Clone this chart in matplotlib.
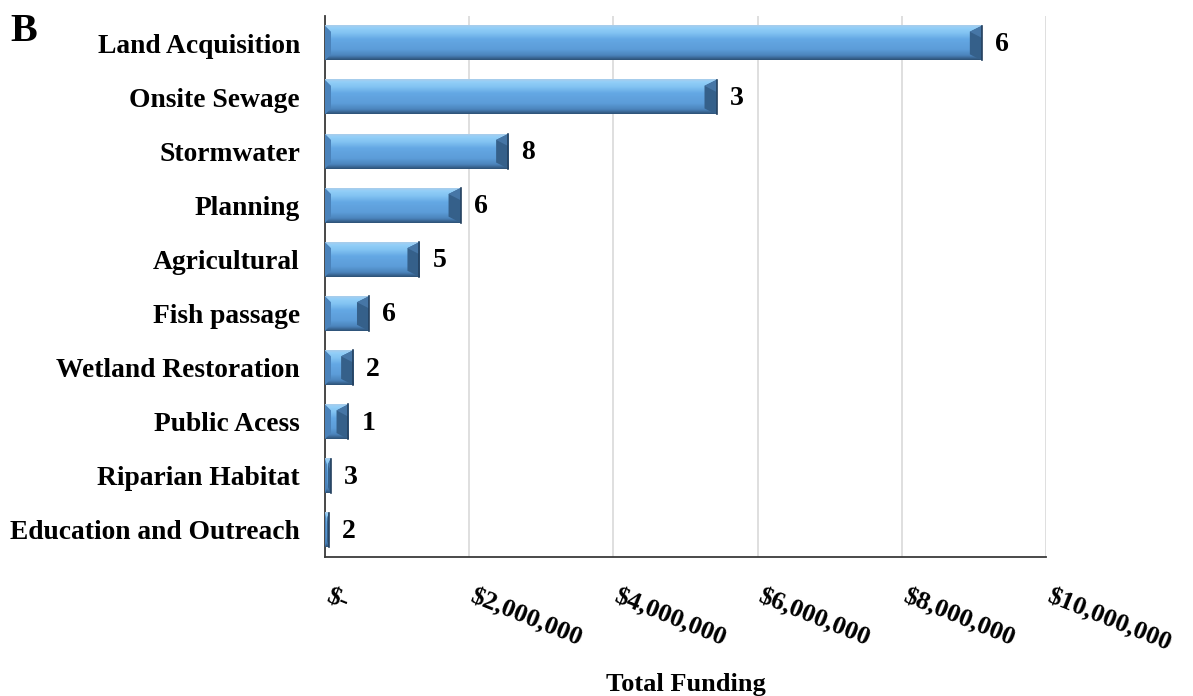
import numpy as np
import matplotlib
matplotlib.use("Agg")
import matplotlib.pyplot as plt
from matplotlib.patches import Polygon
from matplotlib.colors import to_rgb
from matplotlib.transforms import ScaledTranslation

plt.rcParams["font.family"] = ["Liberation Serif", "DejaVu Serif"]
plt.rcParams["font.weight"] = "bold"
plt.rcParams["text.parse_math"] = False

# Funding by project type (USD) and number of projects per type
categories = [
    "Land Acquisition", "Onsite Sewage", "Stormwater", "Planning",
    "Agricultural", "Fish passage", "Wetland Restoration", "Public Acess",
    "Riparian Habitat", "Education and Outreach",
]
funding = [9_110_000, 5_430_000, 2_540_000, 1_880_000, 1_310_000,
           610_000, 390_000, 320_000, 80_000, 55_000]
project_counts = [6, 3, 8, 6, 5, 6, 2, 1, 3, 2]

tick_values = [0, 2_000_000, 4_000_000, 6_000_000, 8_000_000, 10_000_000]
tick_labels = ["$-", "$2,000,000", "$4,000,000", "$6,000,000",
               "$8,000,000", "$10,000,000"]

W, H, DPI = 1193, 696, 100
fig = plt.figure(figsize=(W / DPI, H / DPI), dpi=DPI)
ax = fig.add_axes([325 / W, 1 - 557 / H, (1046 - 325) / W, (557 - 16) / H])

y = np.arange(len(categories))
bar_h = 0.64
bars = ax.barh(y, funding, height=bar_h, color="#5B9BD6", edgecolor="none", zorder=2)

xmax = 10_000_000
ax.set_xlim(0, xmax)
ax.set_ylim(len(categories) - 0.5, -0.5)

# pixel -> data conversions for bevel geometry
ax_w_px = 1046 - 325
ax_h_px = 557 - 16
px_x = xmax / ax_w_px
px_y = len(categories) / ax_h_px

# vertical shading of each bar face (top -> bottom as seen)
stops = [(0.00, "#A9CDEB"), (0.07, "#93CFF8"), (0.22, "#82C3F2"),
         (0.40, "#64A8E4"), (0.70, "#5C9CD8"), (0.87, "#4B84BC"),
         (1.00, "#2E5277")]
n = 64
t = np.linspace(0, 1, n)
pos = [s[0] for s in stops]
cols = np.array([to_rgb(s[1]) for s in stops])
grad = np.stack([np.interp(t, pos, cols[:, k]) for k in range(3)], axis=1)
grad_img = grad[:, None, :]

bx_px, by_px = 12, 6
for rect in bars:
    x0 = rect.get_x()
    x1 = x0 + rect.get_width()
    yt = rect.get_y()               # visually top (inverted axis)
    yb = yt + rect.get_height()     # visually bottom
    ax.imshow(grad_img, extent=(x0, x1, yb, yt), aspect="auto",
              interpolation="bilinear", zorder=3)
    bx = min(bx_px * px_x, (x1 - x0) / 2)
    lx = min(6 * px_x, (x1 - x0) / 3)
    by = by_px * px_y
    # left bevel
    ax.add_patch(Polygon([(x0, yt), (x0 + lx, yt + by), (x0 + lx, yb - by), (x0, yb)],
                         closed=True, facecolor="#4A82BA", edgecolor="none", zorder=4))
    # right bevel
    ax.add_patch(Polygon([(x1, yt), (x1 - bx, yt + by), (x1 - bx, yb - by), (x1, yb)],
                         closed=True, facecolor="#35608A", edgecolor="none", zorder=4))
    ax.add_patch(Polygon([(x1 - bx, yt + by), (x1, yt), (x1, yt + (yb - yt) * 0.35)],
                         closed=True, facecolor="#4676A6", edgecolor="none", zorder=4))
    ax.plot([x1, x1], [yt, yb], color="#24405E", lw=1.2, zorder=5)

ax.set_xlim(0, xmax)
ax.set_ylim(len(categories) - 0.5, -0.5)

# project counts next to each bar
for v, yy, c in zip(funding, y, project_counts):
    ax.annotate(str(c), xy=(v, yy), xytext=(9.5, -1), textcoords="offset points",
                ha="left", va="center", fontsize=20, fontweight="bold", color="black")

ax.set_yticks(y)
ax.set_yticklabels(categories, fontsize=19.8, fontweight="bold")
ax.tick_params(axis="y", length=0, pad=18)

ax.set_xticks(tick_values)
ax.set_xticklabels(tick_labels, fontsize=19, fontweight="bold", rotation=-22,
                   ha="left", va="top", rotation_mode="anchor")
ax.tick_params(axis="x", length=0, pad=20)
shift = ScaledTranslation(6 / DPI, 0, fig.dpi_scale_trans)
for lbl in ax.get_xticklabels():
    lbl.set_transform(lbl.get_transform() + shift)

ax.grid(axis="x", color="#D9D9D9", lw=1.2, zorder=0)
ax.set_axisbelow(True)
for side in ("top", "right"):
    ax.spines[side].set_visible(False)
ax.spines["left"].set_color("#3A3A3A")
ax.spines["left"].set_linewidth(1.3)
ax.spines["bottom"].set_color("#3A3A3A")
ax.spines["bottom"].set_linewidth(1.3)

ax.set_xlabel("Total Funding", fontsize=19, fontweight="bold", va="center")
ax.xaxis.set_label_coords(0.5, -(684 - 557) / (557 - 16))

fig.text(10 / W, 1 - 13 / H, "B", fontsize=29, fontweight="bold", ha="left", va="top")

fig.savefig("out.png", dpi=DPI, facecolor="white")
